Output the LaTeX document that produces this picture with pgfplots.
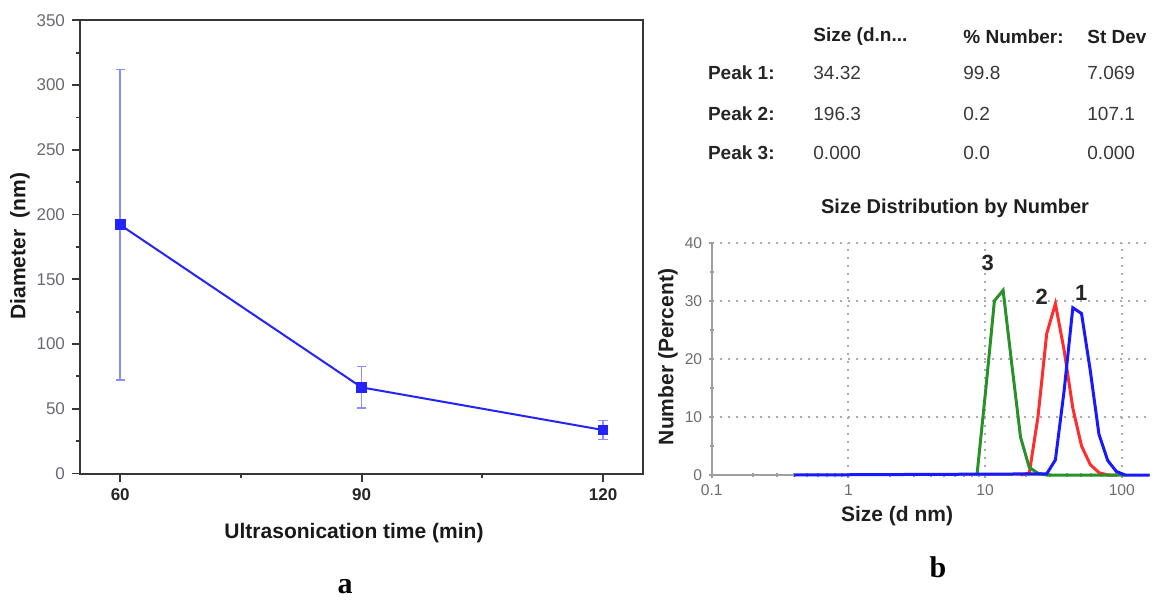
\documentclass[border=0pt]{standalone}
\usepackage{pgfplots}
\pgfplotsset{compat=1.18}
\usepackage{fontspec}
\setmainfont{Liberation Sans}
\newfontfamily\serifb{Liberation Serif}
\definecolor{lineblue}{RGB}{35,35,250}
\definecolor{errblue}{RGB}{140,140,255}
\definecolor{axgray}{RGB}{55,55,55}
\definecolor{tickgray}{RGB}{105,105,115}
\definecolor{dgreen}{RGB}{40,145,40}
\definecolor{dred}{RGB}{255,45,45}
\definecolor{dblue}{RGB}{25,25,255}
\begin{document}
\begin{tikzpicture}
% ---------------- panel a ----------------
\begin{axis}[
  at={(40pt,-236.75pt)}, anchor=south west, scale only axis,
  width=281.65pt, height=226.6pt,
  xmin=55, xmax=125, ymin=0, ymax=350,
  xtick={60,90,120}, minor xtick={75,105},
  ytick={0,50,...,350}, minor ytick={25,75,...,325},
  tick align=outside, xtick pos=bottom, ytick pos=left,
  major tick length=4pt, minor tick length=2pt,
  tick style={axgray, line width=0.9pt},
  axis line style={axgray, line width=1pt},
  /pgf/number format/assume math mode=true,
  xticklabel style={font=\fontsize{8.5}{10}\selectfont\bfseries, text=black!85},
  yticklabel style={font=\fontsize{8.5}{10}\selectfont, text=tickgray},
]
\addplot[lineblue, line width=1pt, mark=square*, mark size=2.2pt,
  mark options={solid, fill=lineblue, draw=lineblue},
  error bars/.cd, y dir=both, y explicit,
  error bar style={errblue, line width=0.8pt},
  error mark options={rotate=90, errblue, mark size=2.3pt, line width=0.8pt}]
coordinates {
  (60,192) +- (0,120)
  (90,66.5) +- (0,16)
  (120,33.6) +- (0,7.2)
};
\end{axis}
% ---------------- panel b ----------------
\begin{axis}[
  at={(355.85pt,-237.5pt)}, anchor=south west, scale only axis,
  width=219pt, height=116.15pt,
  xmode=log, xmin=0.1, xmax=160, ymin=0, ymax=40, clip=false,
  axis x line=bottom, axis y line=left,
  axis line style={-, gray!75, line width=1pt},
  xtick={0.1,1,10,100}, xticklabels={0.1,1,10,100},
  minor xtick={0.2,0.3,0.4,0.5,0.6,0.7,0.8,0.9,2,3,4,5,6,7,8,9,20,30,40,50,60,70,80,90},
  ytick={0,10,20,30,40}, minor ytick={5,15,25,35},
  grid=major,
  major grid style={gray!65, line width=1pt, dash pattern=on 1pt off 3pt},
  tick style={gray!75, line width=1pt}, major tick length=2.5pt, minor tick length=2pt,
  tick align=center,
  /pgf/number format/assume math mode=true,
  ticklabel style={font=\fontsize{7.8}{9}\selectfont, text=gray!85!black},
]
\addplot[dred, line width=1.5pt] coordinates {
  (18.17,0) (21.04,0.3) (24.36,10) (28.21,24.3) (32.67,29.5) (37.84,21.5)
  (43.82,11.5) (50.75,5) (58.77,1.8) (68.06,0.4) (78.82,0) (91.28,0)
};
\addplot[dgreen, line width=1.5pt] coordinates {
  (8.721,0) (10.10,14.6) (11.70,30) (13.54,31.8) (15.69,19) (18.17,6.5)
  (21.04,1.3) (24.36,0.3) (28.21,0) (105.7,0)
};
\addplot[dblue, line width=1.5pt] coordinates {
  (0.4,0) (28.21,0.2) (32.67,2.6) (37.84,14.5) (43.82,28.8) (50.75,27.8)
  (58.77,18) (68.06,7) (78.82,2.5) (91.28,0.6) (105.7,0) (160,0)
};
\node[font=\fontsize{11}{12}\selectfont\bfseries, text=black!85] at (axis cs:10.46,36.6) {3};
\node[font=\fontsize{11}{12}\selectfont\bfseries, text=black!85] at (axis cs:26.0,30.6) {2};
\node[font=\fontsize{11}{12}\selectfont\bfseries, text=black!85] at (axis cs:50.4,31.4) {1};
\end{axis}
% ---------------- texts ----------------
\begin{scope}[x=0.5pt,y=-0.5pt]
\node[rotate=90, font=\fontsize{10.5}{12}\selectfont\bfseries, text=black!90] at (20,246) {Diameter\ \ (nm)};
\node[font=\fontsize{10.5}{12}\selectfont\bfseries, text=black!90] at (354,533) {Ultrasonication time (min)};
\node[font=\serifb\fontsize{15}{16}\selectfont\bfseries] at (345,587) {a};
\node[font=\serifb\fontsize{15}{16}\selectfont\bfseries] at (938,567) {b};
% table
\begin{scope}[every node/.style={font=\fontsize{9.5}{11}\selectfont, inner sep=0pt}]
\node[anchor=west, font=\fontsize{9.5}{11}\selectfont\bfseries, text=black!88] at (813,37) {Size (d.n...};
\node[anchor=west, font=\fontsize{9.5}{11}\selectfont\bfseries, text=black!88] at (963,37) {\% Number:};
\node[anchor=west, font=\fontsize{9.5}{11}\selectfont\bfseries, text=black!88] at (1087,37) {St Dev};
\node[anchor=east, font=\fontsize{9.5}{11}\selectfont\bfseries, text=black!85] at (775,73) {Peak 1:};
\node[anchor=east, font=\fontsize{9.5}{11}\selectfont\bfseries, text=black!85] at (775,114) {Peak 2:};
\node[anchor=east, font=\fontsize{9.5}{11}\selectfont\bfseries, text=black!85] at (775,153) {Peak 3:};
\node[anchor=west, text=black!78] at (813,73) {34.32};
\node[anchor=west, text=black!78] at (963,73) {99.8};
\node[anchor=west, text=black!78] at (1087,73) {7.069};
\node[anchor=west, text=black!78] at (813,114) {196.3};
\node[anchor=west, text=black!78] at (963,114) {0.2};
\node[anchor=west, text=black!78] at (1087,114) {107.1};
\node[anchor=west, text=black!78] at (813,153) {0.000};
\node[anchor=west, text=black!78] at (963,153) {0.0};
\node[anchor=west, text=black!78] at (1087,153) {0.000};
\end{scope}
\node[font=\fontsize{10}{12}\selectfont\bfseries, text=black!88] at (955,208) {Size Distribution by Number};
\node[rotate=90, font=\fontsize{10.5}{12}\selectfont\bfseries, text=black!88] at (668,357) {Number (Percent)};
\node[font=\fontsize{10.5}{12}\selectfont\bfseries, text=black!88] at (897,516) {Size (d nm)};
\end{scope}
\pgfresetboundingbox
\path (0,0) rectangle (577.5pt,-299.5pt);
\end{tikzpicture}
\end{document}
